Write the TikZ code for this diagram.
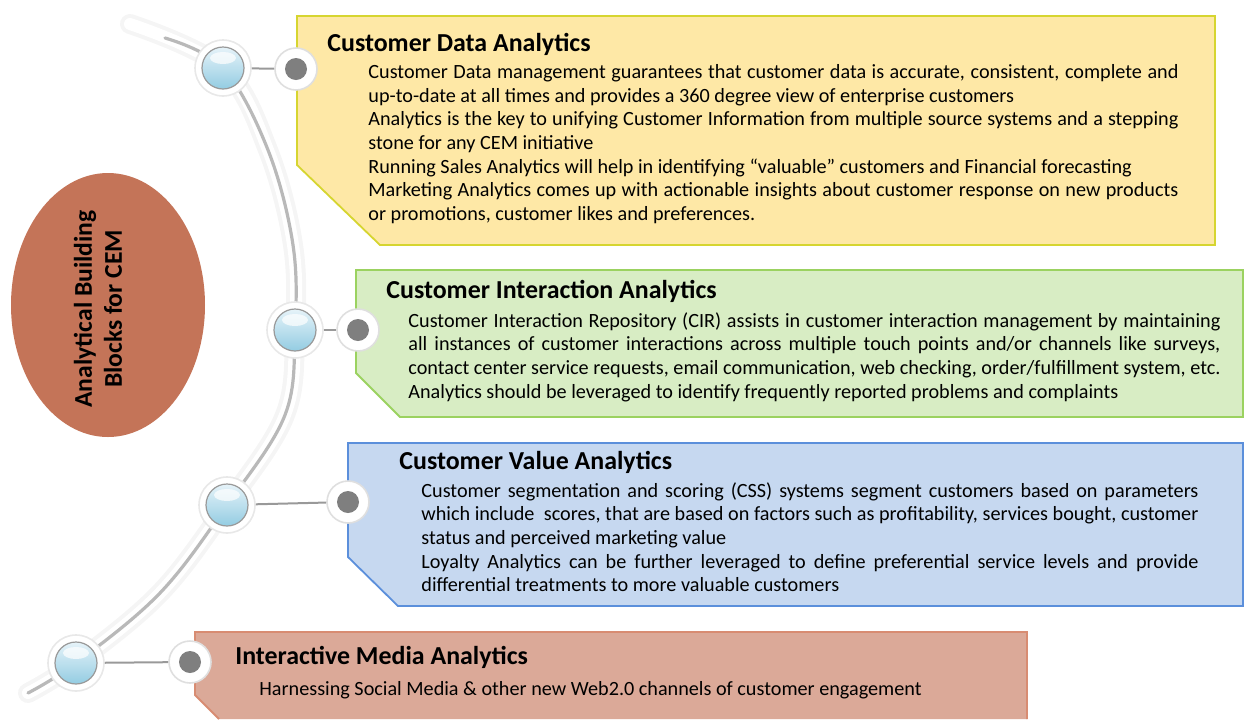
\documentclass[tikz,border=0pt]{standalone}
\usepackage{fontspec}
\setmainfont{Carlito}
\usetikzlibrary{calc,shapes.geometric}
\definecolor{yfill}{HTML}{FEE8A6}
\definecolor{ydraw}{HTML}{D6D530}
\definecolor{gfill}{HTML}{D8EDC4}
\definecolor{gdraw}{HTML}{9BD260}
\definecolor{bfill}{HTML}{C6D8F0}
\definecolor{bdraw}{HTML}{5B8FDB}
\definecolor{sfill}{HTML}{DBA998}
\definecolor{sdraw}{HTML}{D88C72}
\definecolor{efill}{HTML}{C47458}
\definecolor{beadtop}{HTML}{E6F3F9}
\definecolor{beadbot}{HTML}{93CCE2}
\definecolor{dotgray}{HTML}{7F7F7F}
\tikzset{
  boxtitle/.style={anchor=west,inner sep=0pt,font=\fontsize{12.95}{14}\selectfont\bfseries},
  boxbody/.style={anchor=north west,inner sep=0pt,align=justify,font=\fontsize{10.1}{11.85}\selectfont},
  bead/.style={circle,minimum size=21pt,inner sep=0pt,draw=gray!80,line width=0.6pt,top color=beadtop,bottom color=beadbot},
  beadring/.style={circle,minimum size=28pt,inner sep=0pt,fill=white,draw=gray!18,line width=0.8pt},
  dotring/.style={circle,minimum size=21pt,inner sep=0pt,fill=white,draw=gray!25,line width=0.8pt},
  dotcore/.style={circle,minimum size=11pt,inner sep=0pt,fill=dotgray},
  gloss/.style={ellipse,minimum width=13pt,minimum height=6pt,inner sep=0pt,fill=white,fill opacity=0.7},
  link/.style={draw=gray!80,line width=1pt}
}
\begin{document}
\begin{tikzpicture}[x=0.5pt,y=-0.5pt]
\useasboundingbox (0,0) rectangle (1244,719);
\hyphenpenalty=10000 \tolerance=9999
% tube
\draw[line width=10pt,gray!8,line cap=round] plot[smooth,tension=0.6] coordinates {(130,24) (223,68) (268,150) (293,245) (295,330) (285,415) (227,505) (160,593) (76,663) (28,693)};
\draw[line width=6pt,white,line cap=round] plot[smooth,tension=0.6] coordinates {(130,24) (223,68) (268,150) (293,245) (295,330) (285,415) (227,505) (160,593) (76,663) (28,693)};
\draw[line width=1.6pt,gray!55,line cap=round] plot[smooth,tension=0.6] coordinates {(165,38) (223,68) (268,150) (293,245) (295,330) (285,415) (227,505) (160,593) (76,663) (28,693)};
% boxes
\filldraw[fill=yfill,draw=ydraw,line width=0.9pt] (297,16) -- (1215,16) -- (1215,245) -- (380,245) -- (297,165) -- cycle;
\filldraw[fill=gfill,draw=gdraw,line width=0.9pt] (356,270) -- (1243,270) -- (1243,417) -- (400,417) -- (356,373) -- cycle;
\filldraw[fill=bfill,draw=bdraw,line width=0.9pt] (348,443) -- (1243,443) -- (1243,606) -- (398,606) -- (348,557) -- cycle;
\fill[sfill] (195,632) -- (1027,632) -- (1027,719) -- (219,719) -- (195,695) -- cycle;
\draw[sdraw,line width=0.9pt] (1027,719) -- (1027,632) -- (195,632) -- (195,695) -- (219,719);
% central ellipse
\node[ellipse,fill=efill,minimum width=97pt,minimum height=132pt,inner sep=0pt] (core) at (108,305) {};
\node[rotate=90,align=center,inner sep=0pt,font=\fontsize{12.8}{15}\selectfont\bfseries] (coretext) at (98,309) {Analytical Building\\Blocks for CEM};
% beads
\foreach \n/\p in {1/{(223,68)},2/{(295,330)},3/{(227,505)},4/{(76,663)}}{
  \node[beadring] (r\n) at \p {};
}
\node[dotring] (d1) at (296,69) {};
\node[dotring] (d2) at (358,330) {};
\node[dotring] (d3) at (348,502) {};
\node[dotring] (d4) at (190,662) {};
\node[bead] (b1) at (223,68) {};
\node[bead] (b2) at (295,330) {};
\node[bead] (b3) at (227,505) {};
\node[bead] (b4) at (76,663) {};
\foreach \n in {1,2,3,4}{\node[gloss] (g\n) at ($(b\n.center)+(0,-10)$) {};}
\draw[link] (r1) -- (d1);
\draw[link] (r2) -- (d2);
\draw[link] (r3) -- (d3);
\draw[link] (r4) -- (d4);
\foreach \n in {1,2,3,4}{\node[dotcore] (c\n) at (d\n) {};}
% texts
\node[boxtitle] (t1) at (327,44) {Customer Data Analytics};
\node[boxbody,text width=405pt] (p1) at (368,64) {Customer Data management guarantees that customer data is accurate, consistent, complete and\linebreak up-to-date at all times and provides a 360 degree view of enterprise customers\par
Analytics is the key to unifying Customer Information from multiple source systems and a stepping\linebreak stone for any CEM initiative\par
Running Sales Analytics will help in identifying “valuable” customers and Financial forecasting\par
Marketing Analytics comes up with actionable insights about customer response on new products\linebreak or promotions, customer likes and preferences.};
\node[boxtitle] (t2) at (386,291) {Customer Interaction Analytics};
\node[boxbody,text width=406pt] (p2) at (408,312) {Customer Interaction Repository (CIR) assists in customer interaction management by maintaining\linebreak all instances of customer interactions across multiple touch points and/or channels like surveys,\linebreak contact center service requests, email communication, web checking, order/fulfillment system, etc.{\parfillskip=0pt\par}
Analytics should be leveraged to identify frequently reported problems and complaints};
\node[boxtitle] (t3) at (399,462) {Customer Value Analytics};
\node[boxbody,text width=388.5pt] (p3) at (421,482) {Customer segmentation and scoring (CSS) systems segment customers based on parameters\linebreak which include\ \ scores, that are based on factors such as profitability, services bought, customer\linebreak status and perceived marketing value\par
Loyalty Analytics can be further leveraged to define preferential service levels and provide\linebreak differential treatments to more valuable customers};
\node[boxtitle] (t4) at (235,657) {Interactive Media Analytics};
\node[boxbody,anchor=west,align=left] (p4) at (259,690) {Harnessing Social Media \& other new Web2.0 channels of customer engagement};
\end{tikzpicture}
\end{document}
